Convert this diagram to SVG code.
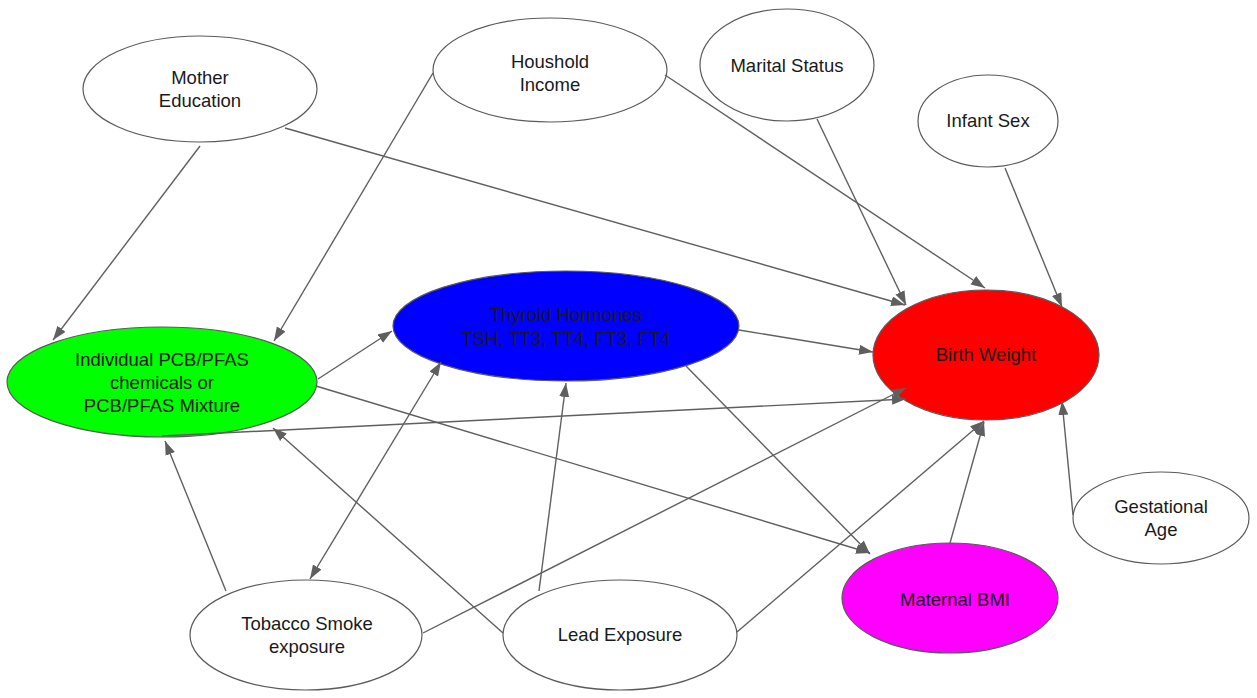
<svg xmlns="http://www.w3.org/2000/svg" width="1257" height="698" viewBox="0 0 1257 698">
  <style>
    .node ellipse { stroke: #5a5a5a; stroke-width: 1.2; }
    .plain ellipse { fill: #ffffff; }
    .node text { font-family: "Liberation Sans", Arial, sans-serif; font-size: 18.5px; fill: #1a1a1a; text-anchor: middle; }
    .edges line { stroke: #5f5f5f; stroke-width: 1.4; fill: none; marker-end: url(#arrow); }
  </style>
  <defs>
    <marker id="arrow" markerUnits="userSpaceOnUse" markerWidth="16" markerHeight="12" refX="14" refY="5" orient="auto-start-reverse">
      <path d="M0,0 L14,5 L0,10 z" fill="#5f5f5f"/>
    </marker>
  </defs>

  <rect width="1257" height="698" fill="#ffffff"/>

  <!-- nodes -->
  <g id="mother-education" class="node plain">
    <ellipse cx="200" cy="89" rx="117" ry="53"/>
    <text x="200" y="84">Mother</text>
    <text x="200" y="107">Education</text>
  </g>
  <g id="household-income" class="node plain">
    <ellipse cx="550" cy="70" rx="117" ry="52"/>
    <text x="550" y="68">Houshold</text>
    <text x="550" y="91">Income</text>
  </g>
  <g id="marital-status" class="node plain">
    <ellipse cx="787" cy="65" rx="87" ry="56"/>
    <text x="787" y="72">Marital Status</text>
  </g>
  <g id="infant-sex" class="node plain">
    <ellipse cx="988" cy="121" rx="70" ry="46"/>
    <text x="988" y="127">Infant Sex</text>
  </g>
  <g id="gestational-age" class="node plain">
    <ellipse cx="1161" cy="518" rx="88" ry="46"/>
    <text x="1161" y="513">Gestational</text>
    <text x="1161" y="536">Age</text>
  </g>
  <g id="pcb-pfas" class="node">
    <ellipse cx="162" cy="382" rx="155" ry="55" fill="#00ff00"/>
    <text x="162" y="366">Individual PCB/PFAS</text>
    <text x="162" y="389">chemicals or</text>
    <text x="162" y="412">PCB/PFAS Mixture</text>
  </g>
  <g id="thyroid-hormones" class="node">
    <ellipse cx="566" cy="326" rx="173" ry="55" fill="#0000ff"/>
    <text x="566" y="321">Thyroid Hormones</text>
    <text x="566" y="345">TSH, TT3, TT4, FT3, FT4</text>
  </g>
  <g id="birth-weight" class="node">
    <ellipse cx="986" cy="355" rx="113" ry="65" fill="#ff0000"/>
    <text x="986" y="361">Birth Weight</text>
  </g>
  <g id="maternal-bmi" class="node">
    <ellipse cx="950" cy="598" rx="108" ry="55" fill="#ff00ff"/>
    <text x="955" y="606">Maternal BMI</text>
  </g>
  <g id="tobacco-smoke" class="node plain">
    <ellipse cx="306" cy="635" rx="116" ry="55"/>
    <text x="307" y="630">Tobacco Smoke</text>
    <text x="307" y="653">exposure</text>
  </g>
  <g id="lead-exposure" class="node plain">
    <ellipse cx="620" cy="635" rx="117" ry="55"/>
    <text x="620" y="641">Lead Exposure</text>
  </g>

  <!-- connectors -->
  <g id="connectors" class="edges">
    <line x1="200" y1="146" x2="53" y2="340"/>
    <line x1="285" y1="128" x2="905" y2="305"/>
    <line x1="433" y1="73" x2="274" y2="341"/>
    <line x1="665" y1="75" x2="985" y2="288"/>
    <line x1="817" y1="119" x2="906" y2="305"/>
    <line x1="1005" y1="168" x2="1062" y2="307"/>
    <line x1="1073" y1="515" x2="1062" y2="401"/>
    <line x1="318" y1="379" x2="392" y2="331"/>
    <line x1="316" y1="386" x2="870" y2="553"/>
    <line x1="162" y1="436" x2="906" y2="399"/>
    <line x1="739" y1="330" x2="873" y2="352"/>
    <line x1="686" y1="366" x2="870" y2="554"/>
    <line x1="226" y1="591" x2="165" y2="441"/>
    <line x1="441" y1="362" x2="310" y2="579" marker-start="url(#arrow)"/>
    <line x1="423" y1="633" x2="906" y2="388"/>
    <line x1="503" y1="633" x2="273" y2="428"/>
    <line x1="539" y1="591" x2="566" y2="383"/>
    <line x1="737" y1="632" x2="984" y2="421"/>
    <line x1="950" y1="543" x2="984" y2="422"/>
  </g>
</svg>
